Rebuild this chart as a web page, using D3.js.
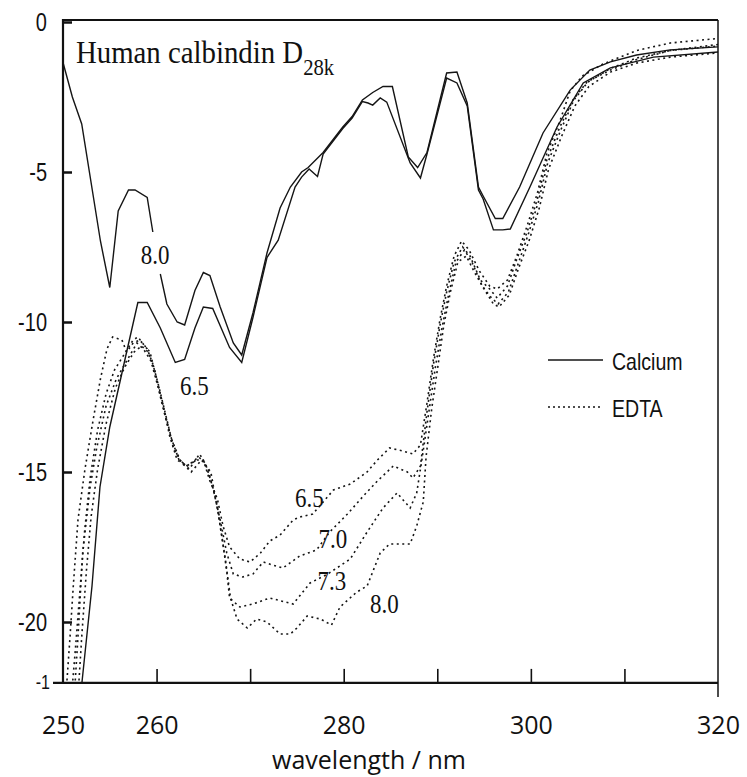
<!DOCTYPE html>
<html>
<head>
<meta charset="utf-8">
<script src="https://d3js.org/d3.v7.min.js"></script>
<title>Human calbindin D28k</title>
<style>
  body { margin: 0; background: #fff; }
  svg { display: block; }
</style>
</head>
<body>
<div id="chart"></div>
<script type="text/javascript">

// calcium curves [wavelength nm, signal], null = gap left for the label
var calcium80 = [[250.0,-1.35],[251.0,-2.5],[252.0,-3.4],[254.0,-7.3],[255.0,-8.85],[255.9,-6.3],[257.0,-5.6],[257.7,-5.6],[259.0,-5.85],[259.6,-7.0],[260.0,null],
  [260.4,-8.4],[261.1,-9.4],[262.2,-10.0],[263.0,-10.1],[264.1,-8.95],[265.0,-8.35],[265.7,-8.45],[266.8,-9.5],[268.2,-10.7],[269.1,-11.1],[270.3,-9.7],
  [271.8,-7.7],[273.2,-6.2],[274.3,-5.5],[275.5,-5.0],[276.2,-4.85],[277.8,-4.35],[279.9,-3.5],[280.9,-3.15],[282.0,-2.6],[283.1,-2.35],[284.2,-2.15],
  [285.2,-2.15],[286.9,-4.5],[287.9,-4.85],[288.9,-4.35],[291.0,-1.7],[292.1,-1.67],[293.2,-2.7],[294.4,-5.5],[294.9,-5.8],[296.2,-6.55],[297.0,-6.55],
  [298.8,-5.5],[301.3,-3.7],[304.2,-2.27],[306.3,-1.6],[308.5,-1.33],[311.3,-1.1],[314.9,-0.93],[320.0,-0.83]];

var calcium65 = [[251.9,-22.5],[252.03,-22.0],[253.1,-18.8],[253.95,-15.5],[255.0,-13.5],[256.3,-11.7],[256.8,-11.0],[258.0,-9.35],[259.0,-9.35],
  [260.4,-10.2],[262.0,-11.35],[263.0,-11.25],[264.1,-10.2],[265.0,-9.5],[266.0,-9.55],[267.8,-10.85],[269.1,-11.35],[270.3,-9.85],[271.8,-7.85],
  [273.0,-7.27],[274.8,-5.5],[275.5,-5.17],[276.3,-4.9],[277.2,-5.15],[277.8,-4.4],[279.9,-3.55],[280.9,-3.2],[282.0,-2.65],[282.6,-2.7],[283.1,-2.77],
  [283.9,-2.53],[284.6,-2.67],[287.1,-4.7],[288.2,-5.2],[288.9,-4.4],[291.0,-1.87],[292.1,-2.03],[293.2,-2.8],[294.4,-5.6],[294.9,-5.9],[296.0,-6.93],
  [297.0,-6.93],[297.8,-6.9],[299.9,-5.5],[302.8,-3.5],[305.6,-2.03],[308.5,-1.53],[313.1,-1.17],[320.0,-1.0]];

// EDTA curves
var edta65 = [[250.3,-22.5],[250.75,-20.5],[251.1,-18.8],[251.6,-16.6],[252.35,-14.9],[253.2,-13.3],[254.0,-11.9],[254.7,-10.9],[255.3,-10.5],
  [256.3,-10.6],[256.8,-11.0],[257.5,-10.7],[258.2,-10.6],[259.3,-11.0],[260.0,-11.9],[260.7,-12.8],[261.4,-13.8],[262.2,-14.6],[263.2,-14.8],
  [264.3,-14.6],[265.0,-14.6],[265.7,-15.3],[266.5,-15.9],[267.1,-16.8],[267.8,-17.5],[268.9,-17.9],[270.0,-18.0],[271.1,-17.7],[272.1,-17.3],
  [273.2,-17.1],[274.6,-16.6],[275.3,-16.5],[276.7,-16.4],[278.9,-15.6],[280.7,-15.4],[282.5,-15.0],[283.6,-14.6],[284.9,-14.2],[286.3,-14.3],
  [287.4,-14.4],[288.2,-14.1],[288.9,-12.7],[289.6,-11.2],[290.3,-9.9],[291.0,-8.8],[291.8,-7.8],[292.6,-7.3],[293.4,-7.6],[294.5,-8.3],
  [295.6,-8.8],[296.4,-8.9],[297.5,-8.6],[298.5,-7.8],[299.6,-6.8],[300.7,-5.7],[301.7,-4.4],[303.1,-3.3],[304.2,-2.3],[305.5,-1.8],
  [307.7,-1.4],[311.3,-0.95],[314.9,-0.7],[320.0,-0.55]];

var edta70 = [[250.9,-22.5],[251.3,-21.0],[251.8,-19.0],[252.3,-17.0],[252.9,-15.2],[253.7,-13.6],[254.6,-12.4],[255.5,-11.6],[256.5,-11.1],
  [257.5,-10.6],[258.0,-10.5],[259.0,-10.9],[259.6,-11.4],[260.2,-12.1],[260.9,-13.0],[261.6,-13.9],[262.4,-14.6],[263.3,-14.8],[264.5,-14.5],
  [265.2,-14.7],[266.0,-15.5],[266.8,-16.6],[267.5,-17.7],[268.2,-18.4],[269.2,-18.5],[270.3,-18.4],[271.4,-18.0],[272.4,-18.1],[273.5,-18.2],
  [275.3,-17.8],[277.1,-17.6],[278.5,-17.0],[280.4,-16.4],[282.1,-15.8],[283.6,-15.3],[285.3,-14.8],[286.8,-15.0],[287.4,-15.2],[288.2,-14.8],
  [288.9,-13.0],[289.6,-11.4],[290.3,-10.1],[291.0,-9.0],[291.8,-8.0],[292.7,-7.5],[293.5,-7.8],[294.6,-8.6],[295.6,-8.9],[296.4,-9.2],
  [297.5,-8.8],[298.5,-7.9],[299.6,-7.0],[300.7,-5.9],[301.7,-4.6],[303.1,-3.5],[304.5,-2.6],[306.0,-2.0],[308.5,-1.6],[311.3,-1.25],
  [314.9,-0.95],[320.0,-0.75]];

var edta73 = [[251.2,-22.5],[251.6,-20.5],[252.1,-17.7],[252.9,-15.5],[253.6,-14.2],[254.6,-12.8],[255.7,-11.9],[256.8,-11.3],[257.9,-10.7],
  [258.6,-10.9],[259.4,-11.3],[260.1,-12.1],[260.8,-13.0],[261.6,-13.9],[262.5,-14.6],[263.5,-14.9],[264.6,-14.4],[265.5,-14.9],[266.4,-16.0],
  [267.0,-17.2],[267.5,-18.3],[267.8,-19.2],[268.9,-19.5],[270.3,-19.4],[272.1,-19.2],[274.6,-19.4],[276.4,-18.7],[278.3,-18.4],[280.7,-17.9],
  [282.5,-17.0],[284.2,-16.2],[285.7,-15.7],[287.1,-16.2],[287.8,-15.7],[288.4,-14.5],[289.1,-13.0],[289.8,-11.5],[290.5,-10.2],[291.2,-9.1],
  [292.0,-8.0],[292.9,-7.6],[293.7,-8.0],[294.8,-8.8],[295.8,-9.2],[296.5,-9.4],[297.6,-9.0],[298.6,-8.1],[299.7,-7.1],[300.8,-6.0],
  [301.8,-4.7],[303.2,-3.6],[304.6,-2.6],[306.1,-2.0],[308.5,-1.55],[311.3,-1.2],[314.9,-0.95],[320.0,-0.8]];

var edta80 = [[251.6,-22.5],[252.0,-20.5],[252.5,-18.3],[253.0,-16.5],[253.7,-14.9],[254.6,-13.4],[255.6,-12.2],[256.6,-11.5],[257.6,-11.0],
  [258.4,-10.8],[259.1,-11.0],[259.8,-11.6],[260.4,-12.4],[261.1,-13.3],[261.8,-14.2],[262.7,-14.7],[263.7,-15.0],[264.8,-14.6],[265.8,-15.0],
  [266.6,-16.4],[267.3,-17.8],[267.9,-19.2],[268.6,-19.9],[269.7,-20.2],[270.7,-19.9],[271.8,-20.0],[273.2,-20.4],[274.3,-20.4],[275.0,-20.2],
  [276.1,-19.8],[277.5,-19.9],[278.7,-20.1],[279.6,-19.5],[281.4,-19.0],[282.5,-18.8],[283.9,-17.7],[284.9,-17.4],[287.1,-17.4],[287.8,-16.8],
  [288.5,-16.0],[288.8,-14.5],[289.4,-12.9],[290.1,-11.4],[290.7,-10.1],[291.4,-9.0],[292.2,-8.0],[293.1,-7.8],[293.9,-8.3],[295.0,-8.9],
  [296.0,-9.4],[296.6,-9.5],[297.7,-9.1],[298.7,-8.2],[299.8,-7.3],[300.9,-6.2],[301.9,-4.9],[303.3,-3.8],[304.7,-2.8],[306.2,-2.15],
  [308.5,-1.67],[311.3,-1.37],[314.9,-1.17],[320.0,-1.03]];

// pH labels placed beside the curves [wavelength, signal, text]
var phLabels = [[258.3,-8.05,"8.0"],[262.5,-12.43,"6.5"],[274.8,-16.17,"6.5"],[277.3,-17.53,"7.0"],[277.2,-18.93,"7.3"],[282.8,-19.7,"8.0"]];

var yTicks = [0, -5, -10, -15, -20];
var xTicks = [260, 270, 280, 290, 300, 310];
var xLabels = [250, 260, 280, 300, 320];
var legendNames = ["Calcium", "EDTA"];

var width = 747, height = 777;
var svg = d3.select("#chart").append("svg")
  .attr("width", width)
  .attr("height", height);

var x = d3.scaleLinear().domain([250, 320]).range([63, 718]);
var y = d3.scaleLinear().domain([0, -20]).range([22, 622]);
var plotTop = 20, plotBottom = y(-22.03);

svg.append("clipPath").attr("id", "plotclip")
  .append("rect")
  .attr("x", x(250)).attr("y", plotTop)
  .attr("width", x(320) - x(250)).attr("height", plotBottom - plotTop);

var line = d3.line()
  .defined(function(d){ return d[1] !== null; })
  .x(function(d){ return x(d[0]); })
  .y(function(d){ return y(d[1]); });

var plot = svg.append("g").attr("clip-path", "url(#plotclip)");

[calcium80, calcium65].forEach(function(s){
  plot.append("path").datum(s)
    .attr("d", line)
    .attr("fill", "none")
    .attr("stroke", "#151515")
    .attr("stroke-width", 1.4);
});

[edta65, edta70, edta73, edta80].forEach(function(s){
  plot.append("path").datum(s)
    .attr("d", line)
    .attr("fill", "none")
    .attr("stroke", "#151515")
    .attr("stroke-width", 1.6)
    .attr("stroke-dasharray", "2,3.5");
});

// frame
svg.append("line").attr("x1", x(250)).attr("x2", x(250)).attr("y1", plotTop - 1).attr("y2", plotBottom)
  .attr("stroke", "#111").attr("stroke-width", 2.2);
svg.append("line").attr("x1", x(250)).attr("x2", x(320)).attr("y1", plotTop).attr("y2", plotTop)
  .attr("stroke", "#111").attr("stroke-width", 2.2);
svg.append("line").attr("x1", x(320)).attr("x2", x(320)).attr("y1", plotTop).attr("y2", plotBottom + 14)
  .attr("stroke", "#111").attr("stroke-width", 1.5);
svg.append("line").attr("x1", x(250) - 10).attr("x2", x(320)).attr("y1", plotBottom).attr("y2", plotBottom)
  .attr("stroke", "#111").attr("stroke-width", 2.2);

// y axis, ticks pointing inwards
var yAxis = svg.append("g")
  .attr("transform", "translate(" + x(250) + ",0)")
  .call(d3.axisRight(y).tickValues(yTicks).tickSize(9).tickFormat(""));
yAxis.select(".domain").remove();
yAxis.selectAll(".tick line").attr("stroke", "#111").attr("stroke-width", 2.5);

// narrow sans labels: squeeze horizontally
var narrow = "'Liberation Sans', Arial, sans-serif";

svg.selectAll(".ylab")
  .data(yTicks).enter()
  .append("text")
  .attr("class", "ylab")
  .attr("transform", function(d){ return "translate(47," + (y(d) + 9) + ") scale(0.8,1)"; })
  .attr("text-anchor", "end")
  .style("font-family", narrow)
  .style("font-size", "25px")
  .attr("fill", "#111")
  .text(function(d){ return d; });

// cut-off label at the bottom edge
svg.append("text")
  .attr("transform", "translate(50," + (plotBottom + 6) + ") scale(0.8,1)")
  .attr("text-anchor", "end")
  .style("font-family", narrow)
  .style("font-size", "20px")
  .attr("fill", "#111")
  .text("-1");

// x axis, ticks pointing up
var xAxis = svg.append("g")
  .attr("transform", "translate(0," + plotBottom + ")")
  .call(d3.axisTop(x).tickValues(xTicks).tickSize(14).tickFormat(""));
xAxis.select(".domain").remove();
xAxis.selectAll(".tick line").attr("stroke", "#111").attr("stroke-width", 1.6);

var xLab = svg.append("g")
  .attr("transform", "translate(0," + (plotBottom + 51) + ")")
  .call(d3.axisBottom(x).tickValues(xLabels).tickSize(0).tickFormat(d3.format("d")));
xLab.select(".domain").remove();
xLab.selectAll("text")
  .style("font-family", "'Open Sans', sans-serif")
  .style("font-size", "25px")
  .attr("fill", "#111")
  .attr("y", 0)
  .attr("dy", "0");

svg.append("text")
  .attr("x", 369).attr("y", 769)
  .attr("text-anchor", "middle")
  .style("font-family", "'Open Sans', sans-serif")
  .style("font-size", "25px")
  .attr("fill", "#111")
  .text("wavelength / nm");

// title
var title = svg.append("text")
  .attr("transform", "translate(76,63) scale(0.9,1)")
  .style("font-family", "'Liberation Serif', 'Times New Roman', serif")
  .style("font-size", "32px")
  .attr("fill", "#111");
title.append("tspan").text("Human calbindin D");
title.append("tspan").attr("dy", 12).style("font-size", "23px").text("28k");

// pH labels
svg.selectAll(".ph")
  .data(phLabels).enter()
  .append("text")
  .attr("class", "ph")
  .attr("transform", function(d){ return "translate(" + x(d[0]) + "," + y(d[1]) + ") scale(0.82,1)"; })
  .style("font-family", "'Liberation Serif', 'Times New Roman', serif")
  .style("font-size", "28px")
  .attr("fill", "#111")
  .text(function(d){ return d[2]; });

// legend
var legend = svg.selectAll(".legend")
  .data(legendNames).enter()
  .append("g")
  .attr("class", "legend")
  .attr("transform", function(d, i){ return "translate(548," + (360 + i * 47) + ")"; });

legend.append("line")
  .attr("x1", 0).attr("x2", 55)
  .attr("stroke", "#151515")
  .attr("stroke-width", 1.5)
  .attr("stroke-dasharray", function(d, i){ return i == 1 ? "2,3" : null; });

legend.append("text")
  .attr("transform", "translate(64,10) scale(0.85,1)")
  .style("font-family", narrow)
  .style("font-size", "23px")
  .attr("fill", "#111")
  .text(function(d){ return d; });

</script>
</body>
</html>
